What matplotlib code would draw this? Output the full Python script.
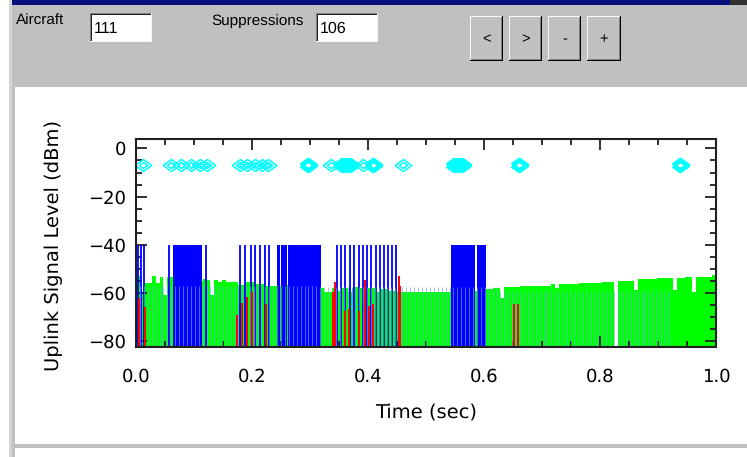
import numpy as np
import matplotlib
matplotlib.use("Agg")
import matplotlib.pyplot as plt
from matplotlib.patches import Rectangle

plt.rcParams["text.hinting"] = "no_hinting"

# ---------------- data ----------------
aircraft_label = "Aircraft"
aircraft_count = "111"
suppress_label = "Suppressions"
suppress_count = "106"
button_labels = ["<", ">", "-", "+"]

# one green bar per sweep (dBm), sweeps evenly spaced over 1 s
sweep_period = 1.0 / 148
green_levels = [
    -53.0, -59.5, -56.0, -56.0, -53.0, -56.0, -53.2, -61.0, -53.2, -53.2,
    -55.0, -56.0, -55.0, -56.0, -55.0, -56.0, -55.0, -54.0, -54.6, -61.0,
    -54.6, -55.3, -54.6, -55.3, -55.5, -55.5, -56.7, -56.7, -55.3, -55.3,
    -56.3, -56.3, -56.3, -57.0, -57.0, -57.0, -57.0, -56.7, -56.7, -57.0,
    -57.0, -57.0, -57.0, -57.0, -57.0, -57.0, -57.0, -58.0, -59.5, -59.5,
    -58.0, -59.0, -58.0, -58.0, -59.5, -58.0, -57.5, -58.0, -59.0, -58.0,
    -58.0, -59.5, -58.5, -58.5, -59.0, -59.0, -59.5, -59.5, -59.5, -59.5,
    -59.5, -59.5, -59.5, -59.5, -59.5, -59.5, -59.5, -59.5, -59.5, -59.5,
    -59.0, -59.0, -59.0, -59.0, -59.0, -59.0, -59.0, -59.0, -59.0, -58.4,
    -58.4, -57.8, -57.8, -62.0, -57.6, -57.6, -57.6, -57.6, -57.0, -57.0,
    -57.0, -57.0, -57.0, -57.0, -57.0, -57.0, -56.3, -58.0, -56.3, -56.3,
    -56.3, -56.3, -56.4, -56.0, -56.0, -56.0, -56.0, -56.0, -56.0, -55.3,
    -55.3, -55.3, np.nan, -55.0, -55.0, -55.0, -55.0, -58.6, -54.3, -54.3,
    -54.3, -54.3, -54.3, -53.9, -53.9, -53.9, -53.9, -58.6, -53.6, -53.6,
    -53.2, -53.2, -59.5, -53.2, -53.2, -53.2, -53.2, -52.5,
]

# threshold marks per sweep (light blue), first 137 sweeps
threshold_levels = [
    -57.0, -57.0, -57.0, -57.0, -57.0, -57.0, -57.0, -57.0, -57.0, -57.0,
    -57.0, -57.0, -57.0, -57.0, -57.0, -57.0, -57.0, -57.0, -57.0, -57.0,
    -57.0, -57.0, -57.0, -57.0, -57.0, -57.0, -57.0, -57.0, -57.0, -57.0,
    -57.0, -57.0, -57.0, -57.0, -57.0, -57.0, -57.0, -57.0, -57.0, -57.0,
    -57.0, -57.0, -57.0, -57.0, -57.0, -57.0, -57.0, -57.5, -57.5, -57.5,
    -57.5, -57.5, -57.5, -57.5, -57.5, -57.5, -57.5, -57.5, -57.5, -57.5,
    -57.5, -57.5, -57.5, -57.5, -57.5, -57.5, -57.5, -57.5, -57.5, -57.5,
    -57.5, -57.5, -57.5, -57.5, -57.5, -57.5, -57.5, -57.5, -57.5, -57.5,
    -57.5, -57.5, -57.5, -57.5, -57.5, -57.5, -57.5, -57.5, -57.5, -57.5,
    -57.5, -57.5, -57.5, -59.0, -59.0, -59.0, -59.0, -59.0, -59.0, -59.0,
    -59.0, -59.0, -59.0, -59.0, -59.0, -59.0, -59.0, -59.0, -59.0, -59.0,
    -59.0, -59.0, -59.0, -59.0, -59.0, -59.0, -59.0, -59.0, -59.0, -59.0,
    -59.0, -59.0, -59.0, -59.0, -59.0, -59.0, -59.0, -59.0, -59.0, -59.0,
    -59.0, -59.0, -59.0, -59.0, -59.0, -59.0, -59.0,
]

# interrogations reaching -40 dBm
interrog_level = -40.0
interrog_times = [0.004, 0.008, 0.013, 0.057, 0.120,
                  0.179, 0.188, 0.198, 0.206, 0.214, 0.222, 0.230,
                  0.346, 0.353, 0.361, 0.369, 0.376, 0.384, 0.391, 0.398,
                  0.405, 0.413, 0.420, 0.427, 0.435, 0.442, 0.448]
interrog_bursts = [(0.0637, 0.1138), (0.2435, 0.2475), (0.2495, 0.2595),
                   (0.2625, 0.3190), (0.5430, 0.5840), (0.5886, 0.6035)]

# suppressed replies
red_times = [0.006, 0.015, 0.174, 0.182, 0.191, 0.200, 0.224, 0.339, 0.343,
             0.360, 0.368, 0.385, 0.394, 0.402, 0.409, 0.453, 0.456, 0.651, 0.658]
red_levels = [-62.2, -65.7, -69.1, -64.3, -61.5, -59.7, -64.7, -59.7, -55.3,
              -67.5, -66.6, -67.5, -54.6, -65.4, -64.7, -52.8, -57.0, -64.7, -64.7]

# reply detections
reply_level = -7.0
reply_open = [0.012, 0.061, 0.078, 0.094, 0.110, 0.123,
              0.179, 0.192, 0.205, 0.218, 0.228, 0.336, 0.392, 0.460]
reply_solid = [0.297, 0.355, 0.362, 0.369, 0.408, 0.548, 0.555, 0.562,
               0.660, 0.938]

x_ticks = [0.0, 0.2, 0.4, 0.6, 0.8, 1.0]
y_ticks = [0, -20, -40, -60, -80]
x_label = "Time (sec)"
y_label = "Uplink Signal Level (dBm)"

# ---------------- figure ----------------
W, H = 747, 457
fig = plt.figure(figsize=(W / 100, H / 100), dpi=100, facecolor="white")

# window chrome drawn in pixel coordinates
bg = fig.add_axes([0, 0, 1, 1], zorder=-1)
bg.set_xlim(0, W)
bg.set_ylim(H, 0)
bg.axis("off")

GRAY = "#c0c0c0"
ui_font = ["Liberation Sans", "DejaVu Sans"]


def rect(x0, y0, x1, y1, color):
    bg.add_patch(Rectangle((x0, y0), x1 - x0, y1 - y0, facecolor=color,
                           edgecolor="none", antialiased=False))


rect(12, 0, W, 87, GRAY)
rect(12, 0, 730, 5, "#0a1080")
rect(730, 0, W, 5, "#303030")
rect(9, 0, 12, H, "#d4d4d4")
rect(12, 87, 15, H, GRAY)
rect(12, 444, W, 448, GRAY)


def sunken(x0, y0, x1, y1):
    rect(x0, y0, x1, y1, "white")
    rect(x0, y0, x1, y0 + 1, "#808080")
    rect(x0, y0, x0 + 1, y1, "#808080")
    rect(x0 + 1, y0 + 1, x1 - 1, y0 + 2, "#202020")
    rect(x0 + 1, y0 + 1, x0 + 2, y1 - 1, "#202020")
    rect(x0, y1 - 1, x1, y1, "#f4f4f4")
    rect(x1 - 1, y0, x1, y1, "#f4f4f4")


def raised(x0, y0, x1, y1):
    rect(x0, y0, x1, y1, GRAY)
    rect(x0, y0, x1, y0 + 1, "#f8f8f8")
    rect(x0, y0, x0 + 1, y1, "#f8f8f8")
    rect(x0, y1 - 1, x1, y1, "#000000")
    rect(x1 - 1, y0, x1, y1, "#000000")
    rect(x0 + 1, y1 - 2, x1 - 1, y1 - 1, "#808080")
    rect(x1 - 2, y0 + 1, x1 - 1, y1 - 1, "#808080")


bg.text(16, 21, aircraft_label, ha="left", va="center", fontsize=11,
        family=ui_font, color="black")
sunken(90, 13, 152, 42)
bg.text(94, 29, aircraft_count, ha="left", va="center", fontsize=11.5,
        family=ui_font, color="black")
bg.text(211, 21, suppress_label, ha="left", va="center", fontsize=11,
        family=ui_font, color="black")
sunken(316, 13, 378, 42)
bg.text(320, 29, suppress_count, ha="left", va="center", fontsize=11.5,
        family=ui_font, color="black")

button_boxes = [(470, 16, 503, 61), (509, 16, 542, 61),
                (548, 16, 581, 61), (587, 16, 621, 61)]
for (x0, y0, x1, y1), lab in zip(button_boxes, button_labels):
    raised(x0, y0, x1, y1)
    bg.text((x0 + x1) / 2, 39.5, lab, ha="center", va="center",
            fontsize=10.5, family=ui_font, color="black")

# ---------------- plot ----------------
L, R, T, B = 136, 716, 139, 347
ax = fig.add_axes([L / W, 1 - B / H, (R - L) / W, (B - T) / H])
ax.set_facecolor("white")
ymin, ymax = -82.4, 3.9
floor = -90.0

n = len(green_levels)
sweep_t = np.arange(n) * sweep_period
g = np.array(green_levels)
ok = ~np.isnan(g)
ax.bar(sweep_t[ok], g[ok] - floor, bottom=floor, width=sweep_period,
       align="edge", color="#00ff00", linewidth=0, zorder=1,
       antialiased=False)

for t0, t1 in interrog_bursts:
    ax.bar(t0, interrog_level - floor, bottom=floor, width=t1 - t0,
           align="edge", color="#0000ff", linewidth=0, zorder=2,
           antialiased=False)
ax.vlines(interrog_times, floor, interrog_level, color="#0000ff",
          linewidth=1.3, zorder=2)

thr_t = np.arange(len(threshold_levels)) * sweep_period
ax.vlines(thr_t, floor, threshold_levels, color="#6aa6ff",
          linewidth=0.45, zorder=3, antialiased=True)

ax.vlines(red_times, floor, red_levels, color="#ff0000",
          linewidth=1.4, zorder=4)

diamond = [(-1, 0), (0, 0.72), (1, 0), (0, -0.72), (-1, 0)]
cyan = "#00ffff"
ax.plot(reply_open, [reply_level] * len(reply_open), ls="none",
        marker=diamond, ms=12, mfc="none", mec=cyan, mew=1.1, zorder=5)
ax.plot(reply_open, [reply_level] * len(reply_open), ls="none",
        marker=diamond, ms=6, mfc="none", mec=cyan, mew=1.1, zorder=5)
ax.plot(reply_solid, [reply_level] * len(reply_solid), ls="none",
        marker=diamond, ms=10.5, mfc="none", mec=cyan, mew=3.6, zorder=5)

ax.set_xlim(0, 1)
ax.set_ylim(ymin, ymax)
ax.set_xticks(x_ticks)
ax.set_xticklabels([f"{v:.1f}" for v in x_ticks])
ax.set_yticks(y_ticks)
ax.set_xticks(np.arange(0, 1.0001, 0.05), minor=True)
ax.set_yticks(np.arange(-80, 1, 5), minor=True)

for s in ax.spines.values():
    s.set_color("#202020")
    s.set_linewidth(1.5)
    s.set_zorder(6)

ax.tick_params(which="both", direction="in", top=True, right=True,
               color="#202020", width=1.3)
ax.tick_params(which="major", length=8)
ax.tick_params(which="minor", length=4)
ax.tick_params(axis="x", which="major", pad=15, labelsize=13)
ax.tick_params(axis="y", which="major", pad=7, labelsize=13)

ax.set_xlabel(x_label, fontsize=14)
ax.xaxis.set_label_coords(0.5, -0.27)
ax.set_ylabel(y_label, fontsize=14)
ax.yaxis.set_label_coords(-0.125, 0.49)

fig.savefig("out.png", dpi=100, facecolor="white")
